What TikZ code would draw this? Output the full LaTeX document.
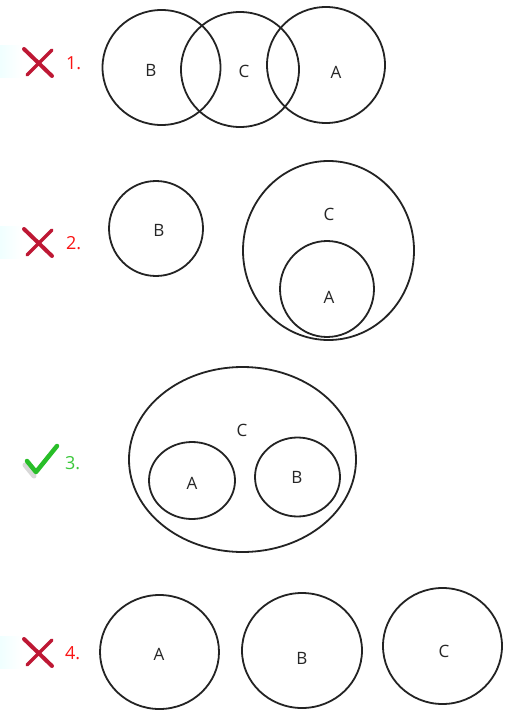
\documentclass[tikz,border=0pt]{standalone}
\usepackage{fontspec}
\setmainfont{Open Sans}
\usetikzlibrary{shapes.geometric}
\definecolor{crossred}{RGB}{190,24,52}
\definecolor{numred}{RGB}{250,20,20}
\definecolor{numgreen}{RGB}{60,200,60}
\definecolor{tickgreen}{RGB}{40,190,40}
\definecolor{lineg}{RGB}{35,35,35}
\tikzset{
  set/.style={draw=lineg, line width=1.8pt, ellipse, inner sep=0pt},
  lbl/.style={font=\fontsize{17}{17}\selectfont, text=black!85},
  num/.style={font=\fontsize{18}{18}\selectfont, anchor=west, inner sep=0pt},
  crossstroke/.style={draw=crossred, line width=4pt, line cap=round},
}
\begin{document}
\begin{tikzpicture}[x=1pt,y=-1pt]
\useasboundingbox[fill=white] (0,0) rectangle (504,711);

% ---- markers
\foreach \yy/\nm in {62/c1, 242/c2, 652/c4}{
  \fill[left color=cyan!6, right color=white] (0,\yy-16) rectangle (22,\yy+16);
  \coordinate (\nm a) at (24,\yy-13);
  \coordinate (\nm b) at (52,\yy+14);
  \coordinate (\nm c) at (52,\yy-12);
  \coordinate (\nm d) at (27,\yy+13);
  \draw[crossstroke] (\nm a) -- (\nm b);
  \draw[crossstroke, line width=3.2pt] (\nm c) -- (\nm d);
}
\node[num, text=numred] (n1) at (66,63) {1.};
\node[num, text=numred] (n2) at (66,243) {2.};
\node[num, text=numgreen] (n3) at (65,463) {3.};
\node[num, text=numred] (n4) at (65,653) {4.};

% check mark
\coordinate (t1) at (27,461);
\coordinate (t2) at (36,472);
\coordinate (t3) at (57,446);
\draw[black!30, line width=5pt, line cap=round, line join=round, opacity=0.5] (25,465) -- (34,476);
\draw[tickgreen, line width=4.5pt, line cap=round, line join=round] (t1) -- (t2) -- (t3);

% ---- row 1
\node[set, minimum width=118pt, minimum height=115pt] (b1) at (161.5,67.5) {};
\node[set, minimum width=118pt, minimum height=115pt] (cc1) at (240,69.5) {};
\node[set, minimum width=118pt, minimum height=116pt] (a1) at (326,65) {};
\node[lbl] (lb1) at (151,70) {B};
\node[lbl] (lc1) at (244,71) {C};
\node[lbl] (la1) at (336,72) {A};

% ---- row 2
\node[set, minimum width=94pt, minimum height=95pt] (b2) at (156,228.5) {};
\node[set, minimum width=171pt, minimum height=179pt] (cc2) at (328.5,250.5) {};
\node[set, minimum width=94pt, minimum height=96pt] (a2) at (327,289) {};
\node[lbl] (lb2) at (159,230) {B};
\node[lbl] (lc2) at (329,214) {C};
\node[lbl] (la2) at (329,297) {A};

% ---- row 3
\node[set, minimum width=227pt, minimum height=185pt] (cc3) at (242.5,459.5) {};
\node[set, minimum width=86pt, minimum height=77pt] (a3) at (192,480.5) {};
\node[set, minimum width=85pt, minimum height=79pt] (b3) at (297.5,477) {};
\node[lbl] (lc3) at (242,430) {C};
\node[lbl] (la3) at (192,483) {A};
\node[lbl] (lb3) at (297,477) {B};

% ---- row 4
\node[set, minimum width=119pt, minimum height=114pt] (a4) at (159.5,652) {};
\node[set, minimum width=120pt, minimum height=115pt] (b4) at (302,650.5) {};
\node[set, minimum width=119pt, minimum height=116pt] (cc4) at (442.5,646) {};
\node[lbl] (la4) at (159,654) {A};
\node[lbl] (lb4) at (302,658) {B};
\node[lbl] (lc4) at (444,651) {C};
\end{tikzpicture}
\end{document}
